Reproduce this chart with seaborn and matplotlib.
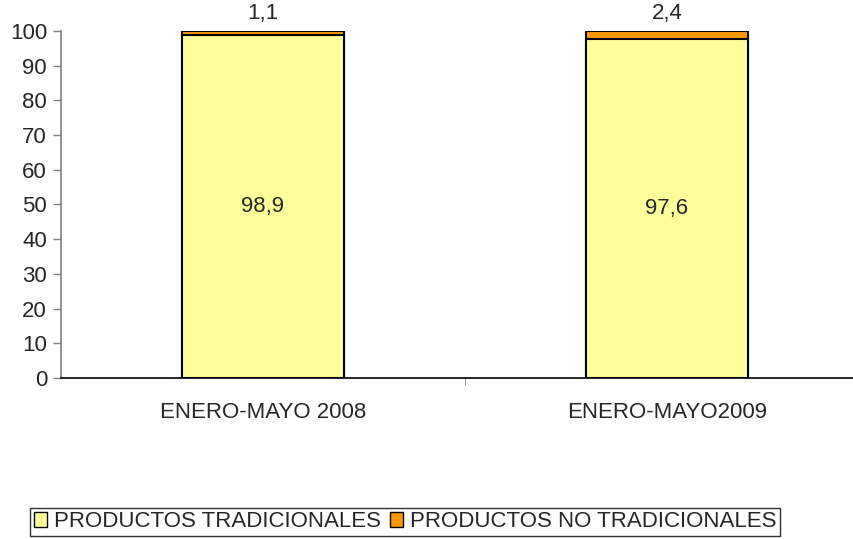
import pandas as pd
import matplotlib.pyplot as plt
import seaborn as sns
from matplotlib.patches import Patch

sns.set_style("white")
plt.rcParams['font.family'] = ['Liberation Sans', 'DejaVu Sans']

# data
periodos = ["ENERO-MAYO 2008", "ENERO-MAYO2009"]
tradicionales = [98.9, 97.6]
no_tradicionales = [1.1, 2.4]
lbl_trad = ["98,9", "97,6"]
lbl_no_trad = ["1,1", "2,4"]

df = pd.DataFrame({"periodo": periodos,
                   "trad": tradicionales,
                   "no_trad": no_tradicionales})
df["total"] = df["trad"] + df["no_trad"]

col_trad = "#FFFF99"
col_no_trad = "#FF9900"
fs = 16

fig = plt.figure(figsize=(8.54, 5.39), dpi=100)
ax = fig.add_axes([0.0714, 0.2987, 0.946, 0.6438])

# stacked bars: total (orange) behind, tradicionales (yellow) in front
sns.barplot(data=df, x="periodo", y="total", color=col_no_trad, width=0.40,
            edgecolor="black", linewidth=1.5, saturation=1, ax=ax)
sns.barplot(data=df, x="periodo", y="trad", color=col_trad, width=0.40,
            edgecolor="black", linewidth=1.5, saturation=1, ax=ax)

for i in range(len(periodos)):
    ax.text(i, tradicionales[i] / 2, lbl_trad[i], ha="center", va="center",
            fontsize=fs)
    ax.annotate(lbl_no_trad[i], (i, df["total"][i]), xytext=(0, 5),
                textcoords="offset points", ha="center", va="bottom",
                fontsize=fs, annotation_clip=False)

ax.set_xlim(-0.5, 1.5)
ax.set_ylim(0, 100)
ax.set_yticks(range(0, 101, 10))
ax.set_xlabel("")
ax.set_ylabel("")

for s in ["top", "right"]:
    ax.spines[s].set_visible(False)
ax.spines["left"].set_color("#808080")
ax.spines["left"].set_linewidth(1.2)
ax.spines["bottom"].set_color("black")
ax.spines["bottom"].set_linewidth(1.2)

ax.tick_params(axis="y", direction="out", length=6, width=1, color="#808080",
               labelsize=fs, pad=4, left=True)
ax.tick_params(axis="x", which="major", length=0, labelsize=fs, pad=17)
ax.set_xticks([0.5], minor=True)
ax.tick_params(axis="x", which="minor", direction="out", length=5,
               color="#808080", bottom=True)

handles = [Patch(facecolor=col_trad, edgecolor="black", linewidth=1),
           Patch(facecolor=col_no_trad, edgecolor="black", linewidth=1)]
leg = fig.legend(handles, ["PRODUCTOS TRADICIONALES", "PRODUCTOS NO TRADICIONALES"],
                 loc="upper center", bbox_to_anchor=(405 / 854, 1 - 508 / 539),
                 ncol=2, fontsize=fs, frameon=True, fancybox=False,
                 edgecolor="black", handlelength=0.6, handleheight=0.6,
                 handletextpad=0.3, columnspacing=0.4, borderpad=0.15,
                 borderaxespad=0)
leg.get_frame().set_linewidth(1)

fig.savefig("out.png", dpi=100)
